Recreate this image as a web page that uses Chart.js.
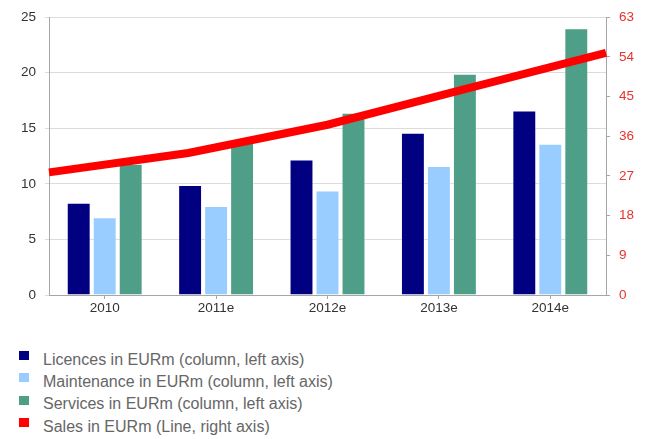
<!DOCTYPE html>
<html>
<head>
<meta charset="utf-8">
<script src="https://cdn.jsdelivr.net/npm/chart.js@4/dist/chart.umd.min.js"></script>
<style>
    html, body { margin: 0; padding: 0; background: #fff; }
    #wrap { position: relative; width: 646px; height: 439px; }
    #chart-box { position: absolute; left: 0; top: 0; width: 646px; height: 320px; }
    #legend { position: absolute; left: 19px; top: 343px; font-family: "Liberation Sans", Arial, sans-serif;
              font-size: 16px; color: #666; }
    #legend .row { height: 22.4px; position: relative; }
    #legend .box { position: absolute; left: 0; top: 8px; width: 10px; height: 9px; }
    #legend .txt { position: absolute; left: 24px; top: 7.5px; white-space: nowrap; }
</style>
</head>
<body>
<div id="wrap">
    <div id="chart-box"><canvas id="chart" width="646" height="320"></canvas></div>
    <div id="legend"></div>
</div>
<script>
const years = ['2010', '2011e', '2012e', '2013e', '2014e'];
const licences = [8.3, 9.9, 12.2, 14.6, 16.6];
const maintenance = [7.0, 8.0, 9.4, 11.6, 13.6];
const services = [11.8, 13.7, 16.4, 19.9, 24.0];
const sales = [27.8, 32.2, 38.6, 46.8, 54.9];

const leftTicks = { min: 0, max: 25, step: 5 };
const rightTicks = { min: 0, max: 63, step: 9 };

const FONT = '"Liberation Sans", Arial, sans-serif';
const AXIS_GREY = '#a6a6a6';

// 4.5 splits bar groups per index axis; the sales line sits on its own
// x axis, so keep all the columns in one group
Chart.BarController.prototype._getAxisCount = function() { return 1; };

function bar_set(label, data, color) {
    return {
        type: 'bar',
        label: label,
        data: data,
        backgroundColor: color,
        borderColor: 'rgba(255,255,255,0.35)',
        borderWidth: 1,
        categoryPercentage: 0.70,
        barPercentage: 0.92,
        xAxisID: 'x',
        yAxisID: 'y',
        order: 1
    };
}

// pin the axis boxes so the plot area lands where it should
function fix_width(w) {
    return function(scale) { scale.width = w; };
}
function fix_height(h) {
    return function(scale) { scale.height = h; };
}

const chart = new Chart(document.getElementById('chart'), {
    data: {
        labels: years,
        datasets: [
            bar_set('Licences in EURm (column, left axis)', licences, '#000080'),
            bar_set('Maintenance in EURm (column, left axis)', maintenance, '#99ccff'),
            bar_set('Services in EURm (column, left axis)', services, '#4f9e87'),
            {
                type: 'line',
                label: 'Sales in EURm (Line, right axis)',
                data: sales,
                borderColor: '#ff0000',
                backgroundColor: '#ff0000',
                borderWidth: 8,
                borderCapStyle: 'butt',
                pointRadius: 0,
                tension: 0,
                xAxisID: 'x2',
                yAxisID: 'y2',
                order: 0
            }
        ]
    },
    options: {
        responsive: false,
        animation: false,
        events: [],
        layout: { padding: { top: 15, left: 0, right: 0, bottom: 0 } },
        plugins: {
            legend: { display: false },
            tooltip: { enabled: false }
        },
        scales: {
            x: {
                type: 'category',
                offset: true,
                afterFit: fix_height(25),
                border: { color: AXIS_GREY, width: 1 },
                grid: { offset: false, drawOnChartArea: false, drawTicks: true, tickLength: 4, color: AXIS_GREY },
                ticks: { color: '#333', font: { family: FONT, size: 13.5 }, padding: 1, maxRotation: 0 }
            },
            // edge-to-edge axis for the sales line
            x2: {
                type: 'category',
                labels: years,
                offset: false,
                display: false
            },
            y: {
                position: 'left',
                min: leftTicks.min,
                max: leftTicks.max,
                afterFit: fix_width(49),
                border: { color: AXIS_GREY, width: 1 },
                grid: { color: '#dcdcdc', lineWidth: 1, tickLength: 4 },
                ticks: { stepSize: leftTicks.step, color: '#333', font: { family: FONT, size: 13.5 }, padding: 9 }
            },
            y2: {
                position: 'right',
                min: rightTicks.min,
                max: rightTicks.max,
                afterFit: fix_width(40),
                border: { color: AXIS_GREY, width: 1 },
                grid: { drawOnChartArea: false, color: AXIS_GREY, tickLength: 4 },
                ticks: { stepSize: rightTicks.step, color: '#e8322e', font: { family: FONT, size: 13.5 }, padding: 9 }
            }
        }
    }
});

// legend as a single column under the chart
function build_legend() {
    const box = document.getElementById('legend');
    chart.data.datasets.forEach(ds => {
        const row = document.createElement('div');
        row.className = 'row';
        const sw = document.createElement('span');
        sw.className = 'box';
        sw.style.background = ds.backgroundColor;
        const txt = document.createElement('span');
        txt.className = 'txt';
        txt.textContent = ds.label;
        row.appendChild(sw);
        row.appendChild(txt);
        box.appendChild(row);
    });
}
build_legend();
</script>
</body>
</html>
